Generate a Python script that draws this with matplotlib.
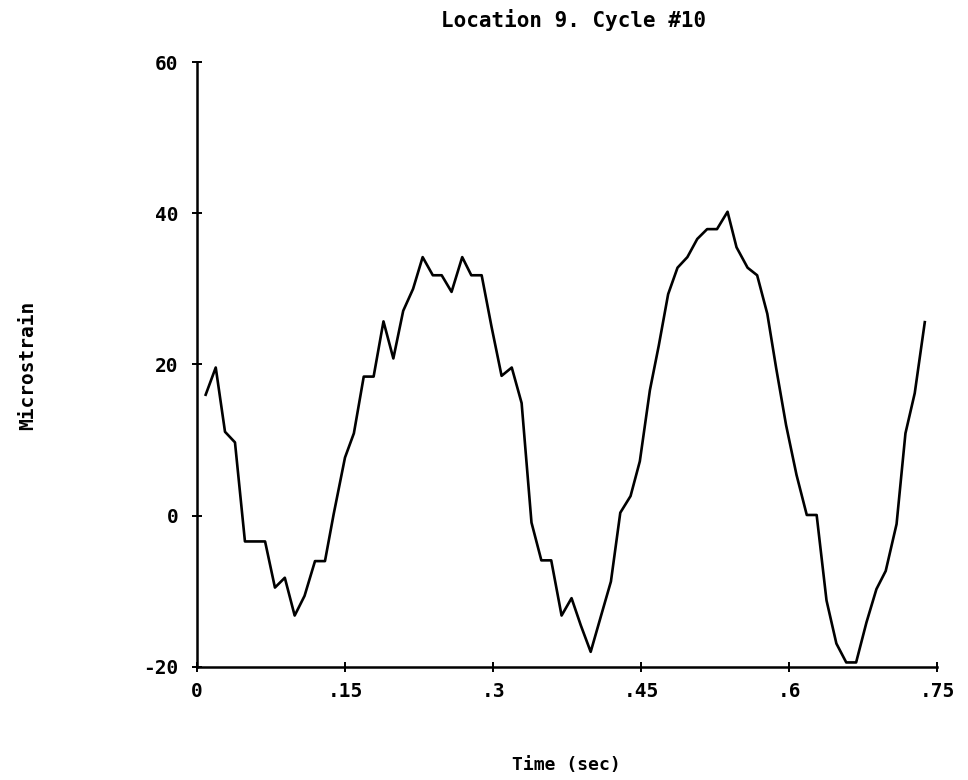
import matplotlib

matplotlib.use("Agg")
import matplotlib.pyplot as plt

# strain trace
time_s = [0.0088, 0.019, 0.0284, 0.0385, 0.0486, 0.059, 0.069, 0.079, 0.089,
          0.099, 0.109, 0.1196, 0.1297, 0.1385, 0.15, 0.159, 0.169, 0.179,
          0.189, 0.199, 0.209, 0.219, 0.2287, 0.239, 0.248, 0.258, 0.2688,
          0.278, 0.2885, 0.2985, 0.3087, 0.319, 0.329, 0.339, 0.349, 0.359,
          0.3695, 0.3796, 0.389, 0.399, 0.41, 0.4195, 0.429, 0.4394, 0.4488,
          0.459, 0.468, 0.4775, 0.487, 0.497, 0.507, 0.517, 0.527, 0.5377,
          0.5468, 0.558, 0.5677, 0.578, 0.587, 0.597, 0.6076, 0.618, 0.628,
          0.638, 0.648, 0.658, 0.668, 0.6785, 0.6886, 0.698, 0.709, 0.718,
          0.7274, 0.7376]
microstrain = [16.0, 19.6, 11.1, 9.7, -3.4, -3.4, -3.4, -9.5, -8.2,
               -13.2, -10.6, -6.0, -6.0, 0.2, 7.7, 10.9, 18.4, 18.4,
               25.7, 20.8, 27.1, 30.0, 34.2, 31.8, 31.8, 29.6, 34.2,
               31.8, 31.8, 25.0, 18.5, 19.6, 14.9, -0.9, -5.9, -5.9,
               -13.2, -10.9, -14.5, -18.0, -13.0, -8.7, 0.4, 2.6, 7.2,
               16.6, 22.5, 29.3, 32.8, 34.2, 36.6, 37.9, 37.9, 40.2,
               35.5, 32.8, 31.8, 26.7, 19.5, 12.0, 5.4, 0.1, 0.1,
               -11.2, -16.9, -19.4, -19.4, -14.1, -9.7, -7.3, -1.1, 10.9,
               16.2, 25.6]

x_ticks = [0, 0.15, 0.3, 0.45, 0.6, 0.75]
x_tick_labels = ["0", ".15", ".3", ".45", ".6", ".75"]
y_ticks = [-20, 0, 20, 40, 60]

plt.rcParams["font.family"] = ["DejaVu Sans Mono"]
plt.rcParams["font.weight"] = "bold"

fig = plt.figure(figsize=(9.68, 7.8), dpi=100)
ax = fig.add_axes([0.2035, 0.1449, 0.7645, 0.7756])

ax.plot(time_s, microstrain, color="black", lw=1.9)

ax.set_xlim(0, 0.75)
ax.set_ylim(-20, 60)
ax.set_xticks(x_ticks, x_tick_labels)
ax.set_yticks(y_ticks, [str(v) for v in y_ticks])

for side in ("top", "right"):
    ax.spines[side].set_visible(False)
for side in ("left", "bottom"):
    ax.spines[side].set_linewidth(1.8)

ax.tick_params(axis="both", direction="inout", length=7, width=1.4,
               labelsize=14, colors="black")
ax.tick_params(axis="x", pad=7)
ax.tick_params(axis="y", pad=10)

fig.text(0.593, 0.974, "Location 9. Cycle #10", ha="center", va="center",
         fontsize=15)
fig.text(0.029, 0.532, "Microstrain", rotation=90, ha="center", va="center",
         fontsize=14)
fig.text(0.585, 0.019, "Time (sec)", ha="center", va="center", fontsize=13)

fig.savefig("out.png", dpi=100)
